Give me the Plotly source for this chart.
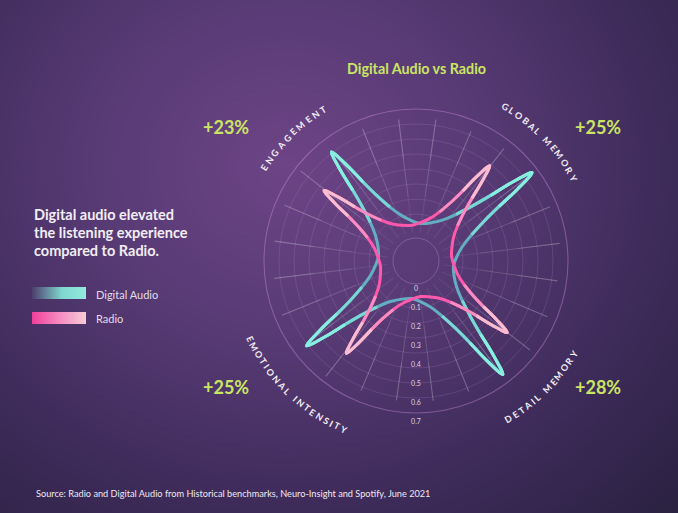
import numpy as np
import plotly.graph_objects as go

# ---------------- data ----------------
TITLE = "Digital Audio vs Radio"
AXIS_NAMES = ["ENGAGEMENT", "GLOBAL MEMORY", "EMOTIONAL INTENSITY", "DETAIL MEMORY"]
UPLIFT = ["+23%", "+25%", "+25%", "+28%"]
SERIES_NAMES = ["Digital Audio", "Radio"]
HEADLINE = ["Digital audio elevated", "the listening experience", "compared to Radio."]
SOURCE = "Source: Radio and Digital Audio from Historical benchmarks, Neuro-Insight and Spotify, June 2021"

RADIAL_TICKS = [0, 0.1, 0.2, 0.3, 0.4, 0.5, 0.6, 0.7]
RADIAL_TICKTEXT = ["0", "0.1", "0.2", "0.3", "0.4", "0.5", "0.6", "0.7"]

DIGITAL_THETA = [352.3,
                 7.3, 17.3, 25.3, 30.3, 33.3, 35.3, 37.3, 39.3, 41.3, 44.3, 49.3, 57.3, 67.3,
                 82.5,
                 97.8, 107.8, 115.8, 120.8, 123.8, 125.8, 127.8, 129.8, 131.8, 134.8, 139.8, 147.8, 157.8,
                 172.8,
                 187.8, 197.8, 205.8, 210.8, 213.8, 215.8, 217.8, 219.8, 221.8, 224.8, 229.8, 237.8, 247.8,
                 262.6,
                 277.4, 287.4, 295.4, 300.4, 303.4, 305.4, 307.4, 309.4, 311.4, 314.4, 319.4, 327.4, 337.4,
                 352.3]
DIGITAL_R = [0.078,
             0.098, 0.135, 0.203, 0.294, 0.402, 0.533, 0.647, 0.533, 0.402, 0.294, 0.203, 0.135, 0.098,
             0.078,
             0.096, 0.131, 0.194, 0.278, 0.378, 0.500, 0.605, 0.500, 0.378, 0.278, 0.194, 0.131, 0.096,
             0.078,
             0.097, 0.131, 0.195, 0.279, 0.380, 0.502, 0.608, 0.502, 0.380, 0.279, 0.195, 0.131, 0.097,
             0.078,
             0.097, 0.133, 0.200, 0.289, 0.394, 0.521, 0.632, 0.521, 0.394, 0.289, 0.200, 0.133, 0.097,
             0.078]

RADIO_THETA = [7.1,
               22.3, 32.3, 40.3, 45.3, 48.3, 50.3, 52.3, 54.3, 56.3, 59.3, 64.3, 72.3, 82.3,
               97.4,
               112.5, 122.5, 130.5, 135.5, 138.5, 140.5, 142.5, 144.5, 146.5, 149.5, 154.5, 162.5, 172.5,
               187.8,
               203.0, 213.0, 221.0, 226.0, 229.0, 231.0, 233.0, 235.0, 237.0, 240.0, 245.0, 253.0, 263.0,
               277.5,
               291.9, 301.9, 309.9, 314.9, 317.9, 319.9, 321.9, 323.9, 325.9, 328.9, 333.9, 341.9, 351.9,
               7.1]
RADIO_R = [0.068,
           0.084, 0.113, 0.166, 0.237, 0.322, 0.424, 0.513, 0.424, 0.322, 0.237, 0.166, 0.113, 0.084,
           0.068,
           0.083, 0.110, 0.161, 0.228, 0.308, 0.405, 0.489, 0.405, 0.308, 0.228, 0.161, 0.110, 0.083,
           0.068,
           0.083, 0.110, 0.161, 0.228, 0.308, 0.405, 0.488, 0.405, 0.308, 0.228, 0.161, 0.110, 0.083,
           0.068,
           0.083, 0.110, 0.161, 0.228, 0.308, 0.405, 0.489, 0.405, 0.308, 0.228, 0.161, 0.110, 0.083,
           0.068]

SPOKE_ANGLES = [7, 22, 37, 52, 67, 82, 97, 112, 127, 142, 157, 172,
                187, 202, 217, 232, 247, 262, 277, 292, 307, 322, 337, 352]
SPOKE_LEN = [0.64, 0.64, 0.62, 0.63, 0.62, 0.63, 0.63, 0.63, 0.60, 0.65, 0.63, 0.63,
             0.63, 0.64, 0.60, 0.65, 0.62, 0.62, 0.62, 0.62, 0.60, 0.64, 0.63, 0.63]

# ---------------- layout geometry / style ----------------
W, H = 678, 513
CX, CY = 416, 261          # polar centre (px)
R_HOLE = 23                # px
PX_PER_UNIT = 190
R_MAX = 0.74               # radial range end (room for the 0.7 label)
R_OUT = R_HOLE + PX_PER_UNIT * R_MAX
OUTER_RING = 0.679         # outer circle of the grid
GRID_R = [0.126, 0.205, 0.284, 0.363, 0.442, 0.521, 0.600]
LIME = "#cbe563"
FONT = "Lato"

fig = go.Figure()

# background gradient (decorative)
gx = np.linspace(0, W, 70)
gy = np.linspace(0, H, 54)
XX, YY = np.meshgrid(gx, gy)
zz = np.clip(np.sqrt((XX - 285) ** 2 + ((YY - 165) / 0.9) ** 2) / 560, 0, 1)
fig.add_trace(go.Heatmap(x=gx, y=gy, z=zz, zmin=0, zmax=1, zsmooth="best",
                         showscale=False, hoverinfo="skip",
                         colorscale=[[0, "#6d4486"], [0.35, "#573a74"], [0.7, "#3c2a58"], [1, "#29213f"]]))

# legend bars with gradients
fig.add_trace(go.Scatter(x=[32, 86, 86, 32, 32], y=[287, 287, 299, 299, 287], mode="lines",
                         fill="toself", line=dict(width=0), hoverinfo="skip", showlegend=False,
                         fillgradient=dict(type="horizontal", start=32, stop=86,
                                           colorscale=[[0, "#4d3d6c"], [0.55, "#7fd6cf"], [1, "#93ebde"]])))
fig.add_trace(go.Scatter(x=[32, 86, 86, 32, 32], y=[312, 312, 324, 324, 312], mode="lines",
                         fill="toself", line=dict(width=0), hoverinfo="skip", showlegend=False,
                         fillgradient=dict(type="horizontal", start=32, stop=86,
                                           colorscale=[[0, "#f03f9b"], [0.5, "#f58ac0"], [1, "#f8cbd6"]])))

# spokes
for lo, alpha in [(0.03, 0.08), (0.22, 0.09), (0.42, 0.12)]:
    rr, tt = [], []
    for a, L in zip(SPOKE_ANGLES, SPOKE_LEN):
        rr += [lo, L, None]
        tt += [a, a, None]
    fig.add_trace(go.Scatterpolar(r=rr, theta=tt, mode="lines", hoverinfo="skip",
                                  line=dict(color=f"rgba(255,255,255,{alpha})", width=1.1),
                                  connectgaps=False, showlegend=False))

def add_curve(theta, r, colors):
    fig.add_trace(go.Scatterpolar(r=r, theta=theta, mode="lines", hoverinfo="skip", showlegend=False,
                                  line=dict(color=colors[0], width=3, shape="spline", smoothing=1)))
    tips = [7, 21, 35, 49]
    for half, col in [(4, colors[1]), (2, colors[2])]:
        for t in tips:
            fig.add_trace(go.Scatterpolar(r=r[t - half:t + half + 1], theta=theta[t - half:t + half + 1],
                                          mode="lines", hoverinfo="skip", showlegend=False,
                                          line=dict(color=col, width=3, shape="spline", smoothing=1)))

add_curve(DIGITAL_THETA, DIGITAL_R, ["#64aec2", "#78d9d4", "#87eee0"])
add_curve(RADIO_THETA, RADIO_R, ["#ff58ac", "#f98dc1", "#f7bdd0"])

# radial tick labels along the downward axis
fig.add_trace(go.Scatterpolar(r=[v + 0.026 for v in RADIAL_TICKS], theta=[270] * len(RADIAL_TICKS),
                              mode="text", text=RADIAL_TICKTEXT, cliponaxis=False, hoverinfo="skip",
                              textfont=dict(family=FONT, size=7, color="#ddd3e6"), showlegend=False))

dom_x = [(CX - R_OUT) / W, (CX + R_OUT) / W]
dom_y = [(H - CY - R_OUT) / H, (H - CY + R_OUT) / H]

fig.update_layout(
    width=W, height=H, margin=dict(l=0, r=0, t=0, b=0),
    paper_bgcolor="#3a2a55", plot_bgcolor="rgba(0,0,0,0)", showlegend=False,
    xaxis=dict(domain=[0, 1], range=[0, W], visible=False, fixedrange=True),
    yaxis=dict(domain=[0, 1], range=[H, 0], visible=False, fixedrange=True),
    polar=dict(
        domain=dict(x=dom_x, y=dom_y), hole=R_HOLE / R_OUT, bgcolor="rgba(0,0,0,0)",
        radialaxis=dict(range=[0, R_MAX], tickvals=GRID_R, showticklabels=False, ticks="",
                        showline=False, gridcolor="rgba(190,140,215,0.20)", gridwidth=1),
        angularaxis=dict(showgrid=False, showticklabels=False, ticks="", showline=False),
    ),
)

def circle(rpx, color, width):
    fig.add_shape(type="circle", xref="paper", yref="paper",
                  x0=(CX - rpx) / W, x1=(CX + rpx) / W,
                  y0=(H - CY - rpx) / H, y1=(H - CY + rpx) / H,
                  line=dict(color=color, width=width), layer="above")

circle(R_HOLE, "rgba(200,150,220,0.35)", 1)
circle(R_HOLE + PX_PER_UNIT * OUTER_RING, "rgba(205,140,225,0.42)", 1.1)

ann = []
def px(x, y):
    return x / W, 1 - y / H

def label(x, y, text, size, color, bold=False, xanchor="center", angle=0, family=FONT):
    xx, yy = px(x, y)
    ann.append(dict(x=xx, y=yy, xref="paper", yref="paper", showarrow=False,
                    text=f"<b>{text}</b>" if bold else text,
                    font=dict(family=family, size=size, color=color), xanchor=xanchor, yanchor="middle",
                    textangle=angle))

label(416, 68, TITLE, 14.3, LIME, bold=True)
for (x, y), t in zip([(226, 127), (598, 127), (226, 387), (598, 387)], UPLIFT):
    label(x, y, t, 18, LIME, bold=True)
for i, line in enumerate(HEADLINE):
    label(32, 214 + 18 * i, line, 14.5, "#f2eef6", bold=True, xanchor="left")
label(94, 294, SERIES_NAMES[0], 11, "#e2dbe9", xanchor="left")
label(94, 318, SERIES_NAMES[1], 11, "#e2dbe9", xanchor="left")
label(34, 493, SOURCE, 9.2, "#eee8f2", xanchor="left")

# curved axis names, letter by letter with proportional spacing
GLYPH_W = {"E": .57, "N": .74, "G": .72, "A": .68, "M": .88, "T": .58, "L": .52, "O": .78,
           "B": .65, "R": .64, "Y": .63, "I": .29, "S": .53, "D": .74, "C": .68, " ": .30}
ARC_FS = 9
# (text, centre angle, angular span first->last letter, radius, top half?)
ARC = [(AXIS_NAMES[0], 135.0, 27.0, 178, True),
       (AXIS_NAMES[1], 44.0, 32.0, 178, True),
       (AXIS_NAMES[2], 225.9, 41.7, 183, False),
       (AXIS_NAMES[3], -45.1, 29.0, 183, False)]
for text, c, span, rad, top in ARC:
    n = len(text)
    w = [GLYPH_W.get(ch, .6) * ARC_FS for ch in text]
    span_px = np.radians(span) * rad
    base = sum((w[i] + w[i + 1]) / 2 for i in range(n - 1))
    track = (span_px - base) / (n - 1)
    pos = [0.0]
    for i in range(n - 1):
        pos.append(pos[-1] + (w[i] + w[i + 1]) / 2 + track)
    for i, ch in enumerate(text):
        if ch == " ":
            continue
        off = np.degrees((pos[i] - span_px / 2) / rad)
        phi = c - off if top else c + off
        a = np.radians(phi)
        x = CX + rad * np.cos(a)
        y = CY - rad * np.sin(a)
        rot = (90 - phi) if top else (270 - phi)
        label(x, y, ch, ARC_FS, "#f2eef6", bold=True, angle=rot)

fig.update_layout(annotations=ann)
fig.write_html("out.html", config={"displayModeBar": False},
               post_script="document.body.style.margin='0';document.body.style.overflow='hidden';")
